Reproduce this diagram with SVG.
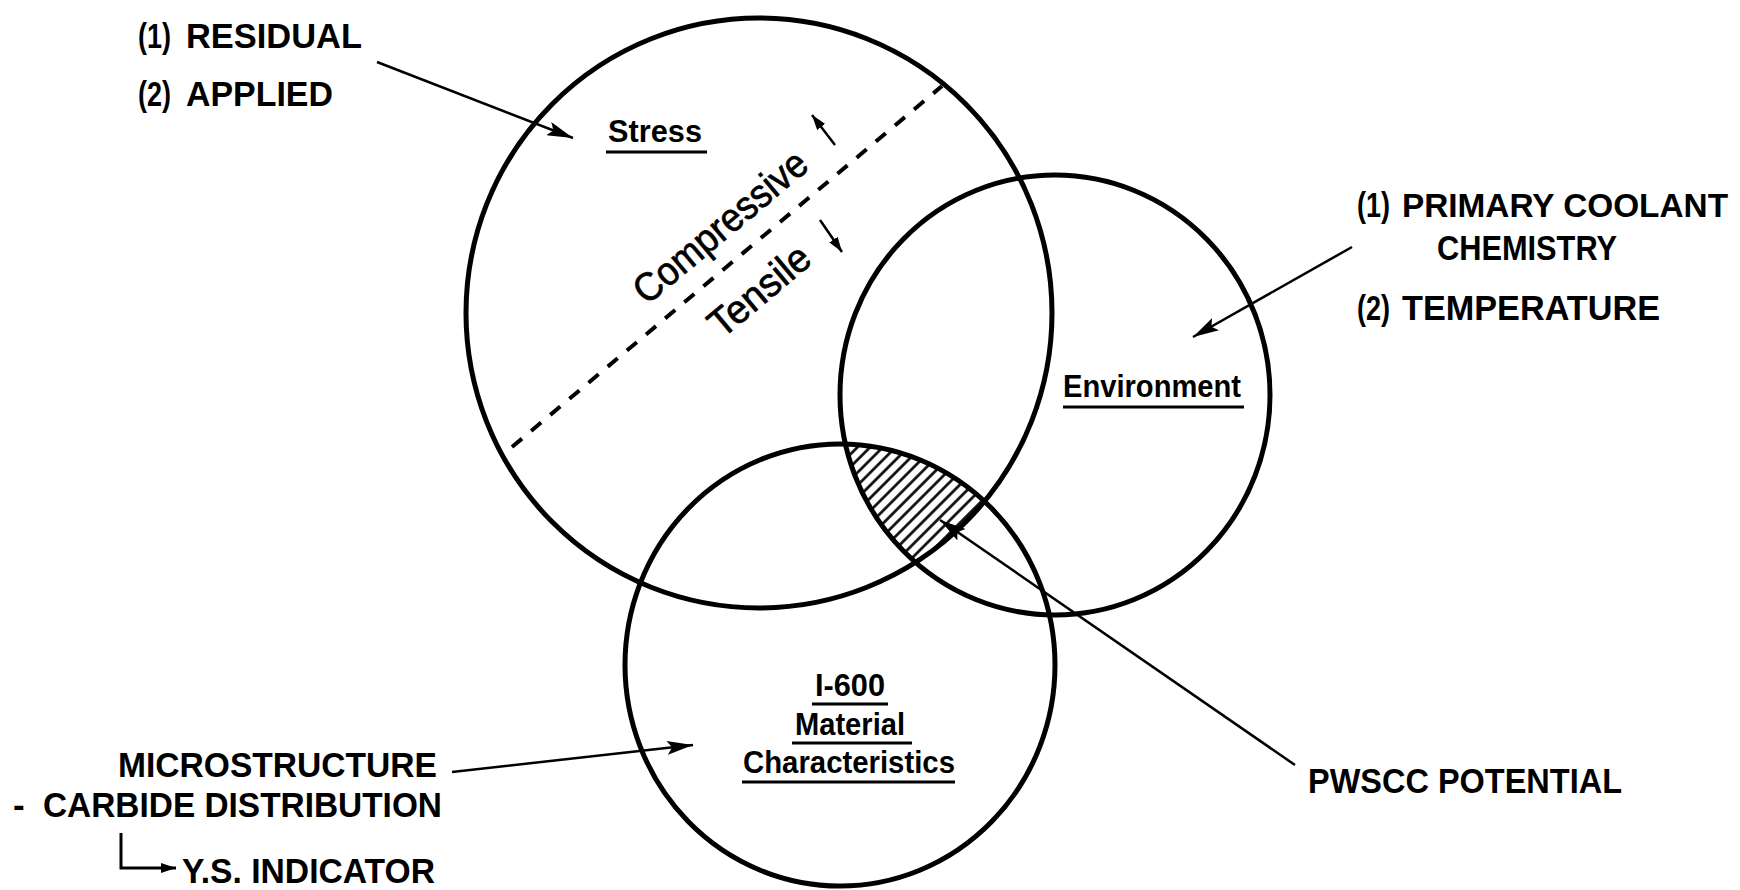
<svg xmlns="http://www.w3.org/2000/svg" width="1740" height="890" viewBox="0 0 1740 890">
<style>
.c{fill:none;stroke:#000;stroke-width:5}
.lbl{font-family:"Liberation Sans",Arial,sans-serif;font-weight:bold;font-size:35px;fill:#000}
.nl{font-family:"Liberation Sans",Arial,sans-serif;font-weight:bold;font-size:31px;fill:#000}
.rot{font-family:"Liberation Sans",Arial,sans-serif;font-size:40px;fill:#000;stroke:#000;stroke-width:0.7}
.ul{stroke:#000;stroke-width:3}
.ln{fill:none;stroke:#000;stroke-width:2.5}
.sm{fill:none;stroke:#000;stroke-width:2.5}
</style>
<defs>
<marker id="ah" markerUnits="userSpaceOnUse" markerWidth="28" markerHeight="14" refX="26" refY="7" orient="auto"><path d="M0,0 L26,7 L0,14 L5,7 z" fill="#000"/></marker>
<marker id="as" markerUnits="userSpaceOnUse" markerWidth="16" markerHeight="10" refX="15" refY="5" orient="auto"><path d="M0,0 L15,5 L0,10 z" fill="#000"/></marker>
<pattern id="hatch" patternUnits="userSpaceOnUse" width="9" height="9" patternTransform="rotate(-45)"><line x1="0" y1="4.5" x2="9" y2="4.5" stroke="#000" stroke-width="2.6"/></pattern>
<clipPath id="cs"><ellipse cx="759" cy="313" rx="293" ry="295"/></clipPath>
<clipPath id="ce"><ellipse cx="1055" cy="395" rx="215" ry="220"/></clipPath>
</defs>
<rect width="1740" height="890" fill="#fff"/>

<g id="pwscc-region">
<g clip-path="url(#cs)"><g clip-path="url(#ce)"><ellipse cx="840" cy="665" rx="215" ry="221" fill="url(#hatch)"/></g></g>
</g>

<g id="stress">
<ellipse class="c" cx="759" cy="313" rx="293" ry="295"/>
<text class="nl" x="608" y="142" textLength="94" lengthAdjust="spacingAndGlyphs">Stress</text>
<line class="ul" x1="606" y1="152" x2="707" y2="152"/>
<line x1="512" y1="447" x2="942" y2="86" stroke="#000" stroke-width="4" stroke-dasharray="13 12"/>
<text class="rot" transform="translate(729,237) rotate(-40)" text-anchor="middle" textLength="214" lengthAdjust="spacingAndGlyphs">Compressive</text>
<text class="rot" transform="translate(768,301) rotate(-40)" text-anchor="middle" textLength="120" lengthAdjust="spacingAndGlyphs">Tensile</text>
<line class="sm" x1="835" y1="145" x2="812" y2="115" marker-end="url(#as)"/>
<line class="sm" x1="820" y1="220" x2="842" y2="252" marker-end="url(#as)"/>
</g>

<g id="environment">
<ellipse class="c" cx="1055" cy="395" rx="215" ry="220"/>
<text class="nl" x="1063" y="397" textLength="178" lengthAdjust="spacingAndGlyphs">Environment</text>
<line class="ul" x1="1063" y1="407" x2="1244" y2="407"/>
</g>

<g id="material">
<ellipse class="c" cx="840" cy="665" rx="215" ry="221"/>
<text class="nl" x="815" y="696" textLength="70" lengthAdjust="spacingAndGlyphs">I-600</text>
<line class="ul" x1="812" y1="704" x2="888" y2="704"/>
<text class="nl" x="795" y="735" textLength="110" lengthAdjust="spacingAndGlyphs">Material</text>
<line class="ul" x1="792" y1="743" x2="912" y2="743"/>
<text class="nl" x="743" y="773" textLength="212" lengthAdjust="spacingAndGlyphs">Characteristics</text>
<line class="ul" x1="742" y1="782" x2="955" y2="782"/>
</g>

<g id="stress-factors">
<text class="lbl" y="48"><tspan x="138" textLength="33" lengthAdjust="spacingAndGlyphs">(1)</tspan><tspan x="186" textLength="176" lengthAdjust="spacingAndGlyphs">RESIDUAL</tspan></text>
<text class="lbl" y="106"><tspan x="138" textLength="33" lengthAdjust="spacingAndGlyphs">(2)</tspan><tspan x="186" textLength="147" lengthAdjust="spacingAndGlyphs">APPLIED</tspan></text>
</g>

<g id="environment-factors">
<text class="lbl" y="217"><tspan x="1357" textLength="33" lengthAdjust="spacingAndGlyphs">(1)</tspan><tspan x="1402" font-size="33" textLength="326" lengthAdjust="spacingAndGlyphs">PRIMARY COOLANT</tspan></text>
<text class="lbl" x="1437" y="260" textLength="180" lengthAdjust="spacingAndGlyphs">CHEMISTRY</text>
<text class="lbl" y="320"><tspan x="1357" textLength="33" lengthAdjust="spacingAndGlyphs">(2)</tspan><tspan x="1402" textLength="258" lengthAdjust="spacingAndGlyphs">TEMPERATURE</tspan></text>
</g>

<g id="material-factors">
<text class="lbl" x="118" y="777" textLength="319" lengthAdjust="spacingAndGlyphs">MICROSTRUCTURE</text>
<text class="lbl" x="13" y="817">-</text>
<text class="lbl" x="43" y="817" textLength="399" lengthAdjust="spacingAndGlyphs">CARBIDE DISTRIBUTION</text>
<text class="lbl" x="182" y="883" textLength="253" lengthAdjust="spacingAndGlyphs">Y.S. INDICATOR</text>
</g>

<g id="pwscc-label">
<text class="lbl" x="1308" y="793" textLength="314" lengthAdjust="spacingAndGlyphs">PWSCC POTENTIAL</text>
</g>

<g id="connectors">
<line class="ln" x1="377" y1="62" x2="573" y2="138" marker-end="url(#ah)"/>
<line class="ln" x1="1352" y1="247" x2="1193" y2="337" marker-end="url(#ah)"/>
<line class="ln" x1="452" y1="772" x2="693" y2="745" marker-end="url(#ah)"/>
<line class="ln" x1="1295" y1="765" x2="940" y2="520" marker-end="url(#ah)"/>
<polyline fill="none" stroke="#000" stroke-width="3" points="121,833 121,868 176,868" marker-end="url(#as)"/>
</g>
</svg>
